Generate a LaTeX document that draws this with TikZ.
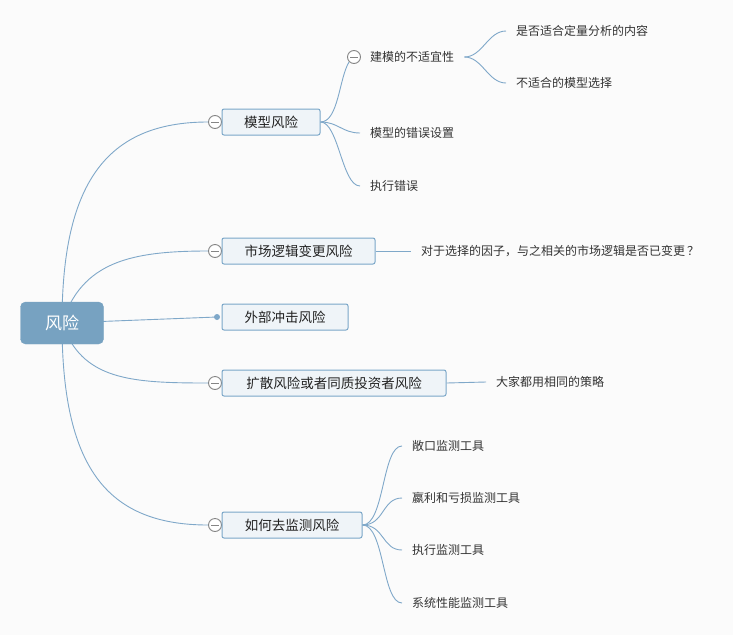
\documentclass[tikz,border=0pt]{standalone}
\usepackage{fontspec}
\newfontfamily\cjk{Noto Sans CJK SC}
\definecolor{bgcol}{HTML}{FBFBFB}
\definecolor{rootcol}{HTML}{77A2C1}
\definecolor{linecol}{HTML}{7FA8C9}
\definecolor{boxline}{HTML}{7AA6C8}
\definecolor{boxfill}{HTML}{EFF4F8}
\definecolor{foldgray}{HTML}{858585}
\definecolor{textdark}{HTML}{222222}
\definecolor{textgray}{HTML}{333333}
\tikzset{
  root/.style={draw=rootcol, fill=rootcol, rounded corners=5pt, minimum width=83pt, minimum height=42pt, inner sep=0pt, text=white, font=\cjk\fontsize{17}{20}\selectfont},
  topic/.style={draw=boxline, line width=1pt, fill=boxfill, rounded corners=2pt, minimum height=26pt, inner sep=0pt, text=textdark, font=\cjk\fontsize{13.5}{16}\selectfont},
  sub/.style={anchor=west, inner xsep=10pt, inner ysep=2pt, text=textgray, font=\cjk\fontsize{12}{14}\selectfont},
  fold/.style={circle, draw=foldgray, line width=0.9pt, fill=white, minimum size=13pt, inner sep=0pt,
    path picture={\draw[foldgray, line width=0.9pt] ([xshift=-4pt]path picture bounding box.center) -- ([xshift=4pt]path picture bounding box.center);}},
  tip/.style={circle, fill=linecol, minimum size=6pt, inner sep=0pt},
  link/.style={draw=linecol, line width=0.9pt},
}
\begin{document}
\begin{tikzpicture}[x=1pt, y=-1pt]
% page and background
\fill[bgcol] (0,0) rectangle (733,635);
\useasboundingbox (0,0) rectangle (733,635);

% fold markers in front of the main topics
\node[fold] (fmx) at (215,122) {};
\node[fold] (fsc) at (215,251) {};
\node[tip]  (dwb) at (217,317) {};
\node[fold] (fks) at (215,383) {};
\node[fold] (frh) at (215,525) {};

% main topics
\node[topic, minimum width=98pt]  (mx) at (271,122) {模型风险};
\node[topic, minimum width=153pt] (sc) at (298.5,251) {市场逻辑变更风险};
\node[topic, minimum width=126pt] (wb) at (285,317) {外部冲击风险};
\node[topic, minimum width=224pt] (ks) at (334,383) {扩散风险或者同质投资者风险};
\node[topic, minimum width=140pt] (rh) at (292,525) {如何去监测风险};

% subtopics of 模型风险
\node[fold] (fjm) at (354,57) {};
\node[sub] (jm) at (360,57) {建模的不适宜性};
\node[sub] (cw) at (360,133) {模型的错误设置};
\node[sub] (zx) at (360,186) {执行错误};
\node[sub] (sf) at (506,31) {是否适合定量分析的内容};
\node[sub] (bs) at (506,83) {不适合的模型选择};

% subtopics of the other main topics
\node[sub] (dy) at (411,251) {对于选择的因子，与之相关的市场逻辑是否已变更\,？};
\node[sub] (dj) at (486,382) {大家都用相同的策略};
\node[sub] (ck) at (402,446) {敞口监测工具};
\node[sub] (yl) at (402,498) {嬴利和亏损监测工具};
\node[sub] (zj) at (402,550) {执行监测工具};
\node[sub] (xt) at (402,603) {系统性能监测工具};

% connectors from the root
\coordinate (rc) at (62,323);
\draw[link] (rc) .. controls (62,185) and (105,122) .. (fmx.west);
\draw[link] (rc) .. controls (82,262) and (130,251) .. (fsc.west);
\draw[link] (rc) -- (dwb.center);
\draw[link] (rc) .. controls (82,380) and (130,383) .. (fks.west);
\draw[link] (rc) .. controls (62,465) and (105,525) .. (frh.west);

% connectors of 模型风险
\draw[link] (mx.east) .. controls +(18,0) and +(-10,16) .. (fjm.south west);
\draw[link] (mx.east) .. controls +(18,0) and +(-18,0) .. (cw.west);
\draw[link] (mx.east) .. controls +(18,0) and +(-18,0) .. (zx.west);
\draw[link] (jm.east) .. controls +(18,0) and +(-18,0) .. (sf.west);
\draw[link] (jm.east) .. controls +(18,0) and +(-18,0) .. (bs.west);

% straight connectors
\draw[link] (sc.east) -- (dy.west);
\draw[link] (ks.east) -- (dj.west);

% connectors of 如何去监测风险
\draw[link] (rh.east) .. controls +(22,0) and +(-20,0) .. (ck.west);
\draw[link] (rh.east) .. controls +(22,0) and +(-20,0) .. (yl.west);
\draw[link] (rh.east) .. controls +(22,0) and +(-20,0) .. (zj.west);
\draw[link] (rh.east) .. controls +(22,0) and +(-20,0) .. (xt.west);

% root on top of its connectors
\node[root] (fx) at (rc) {风险};
\end{tikzpicture}
\end{document}
